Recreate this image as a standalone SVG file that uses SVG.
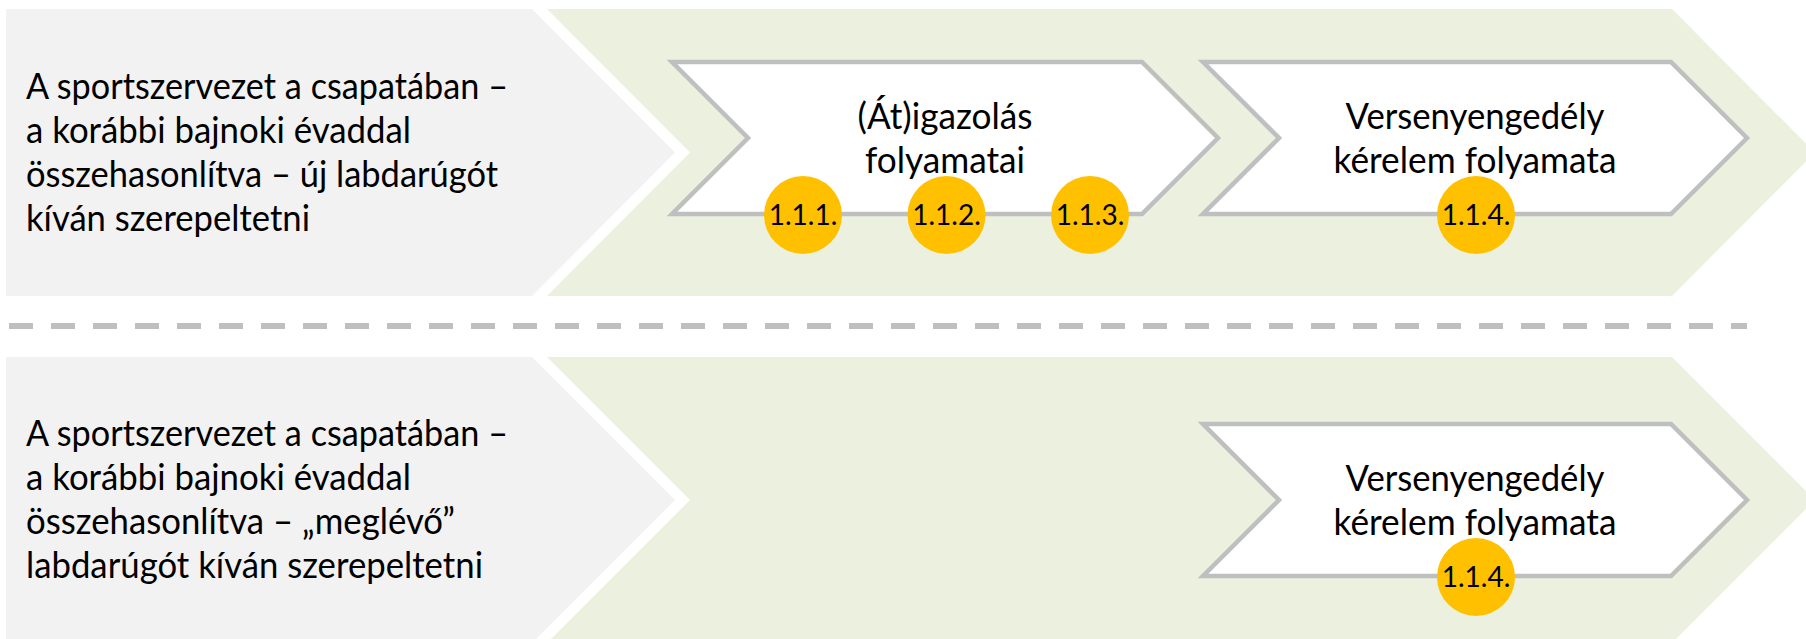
<svg xmlns="http://www.w3.org/2000/svg" width="1806" height="639" viewBox="0 0 1806 639">
<defs>
<style>
.bg{fill:#FFFFFF}
.grey{fill:#F2F2F2}
.green{fill:#EBF1DE}
.chev{fill:#FFFFFF;stroke:#BFBFBF;stroke-width:4.5;stroke-linejoin:miter}
.dot{fill:#FFC000}
.t{font-family:Lato,"Liberation Sans",sans-serif;font-size:37px;fill:#000000}
.tc{font-family:Lato,"Liberation Sans",sans-serif;font-size:37px;fill:#000000;text-anchor:middle}
.n{font-family:Lato,"Liberation Sans",sans-serif;font-size:28px;fill:#000000;text-anchor:middle}
.sep{stroke:#BFBFBF;stroke-width:6;stroke-dasharray:24 18;fill:none}
</style>
</defs>
<rect class="bg" x="0" y="0" width="1806" height="639"/>

<g id="row1-green">
<polygon class="green" points="547,9 1672,9 1815,152.5 1672,296 547,296 690,152.5"/>
</g>
<g id="row1-condition">
<polygon class="grey" points="6,9 532,9 675,152.5 532,296 6,296"/>
<text class="t" x="26" y="99" textLength="482" lengthAdjust="spacingAndGlyphs">A sportszervezet a csapatában –</text>
<text class="t" x="26" y="143" textLength="385" lengthAdjust="spacingAndGlyphs">a korábbi bajnoki évaddal</text>
<text class="t" x="26" y="187" textLength="472" lengthAdjust="spacingAndGlyphs">összehasonlítva – új labdarúgót</text>
<text class="t" x="26" y="231" textLength="284" lengthAdjust="spacingAndGlyphs">kíván szerepeltetni</text>
</g>
<g id="row1-atigazolas">
<polygon class="chev" points="672,62 1142,62 1218,138 1142,214 672,214 748,138"/>
<text class="tc" x="945" y="129" textLength="175" lengthAdjust="spacingAndGlyphs">(Át)igazolás</text>
<text class="tc" x="945" y="173" textLength="160" lengthAdjust="spacingAndGlyphs">folyamatai</text>
</g>
<g id="row1-versenyengedely">
<polygon class="chev" points="1203,62 1671,62 1747,138 1671,214 1203,214 1279,138"/>
<text class="tc" x="1475" y="129" textLength="259" lengthAdjust="spacingAndGlyphs">Versenyengedély</text>
<text class="tc" x="1475" y="173" textLength="283" lengthAdjust="spacingAndGlyphs">kérelem folyamata</text>
</g>
<g id="step-1-1-1">
<circle class="dot" cx="803" cy="215" r="39"/>
<text class="n" x="803" y="225">1.1.1.</text>
</g>
<g id="step-1-1-2">
<circle class="dot" cx="946.5" cy="215" r="39"/>
<text class="n" x="946.5" y="225">1.1.2.</text>
</g>
<g id="step-1-1-3">
<circle class="dot" cx="1090" cy="215" r="39"/>
<text class="n" x="1090" y="225">1.1.3.</text>
</g>
<g id="step-1-1-4-top">
<circle class="dot" cx="1476" cy="215" r="39"/>
<text class="n" x="1476" y="225">1.1.4.</text>
</g>

<g id="connectors">
<line class="sep" x1="9" y1="326" x2="1747" y2="326"/>
</g>

<g id="row2-green">
<polygon class="green" points="547,357 1672,357 1815,500 1672,643 547,643 690,500"/>
</g>
<g id="row2-condition">
<polygon class="grey" points="6,357 532,357 675,500 532,643 6,643"/>
<text class="t" x="26" y="446" textLength="482" lengthAdjust="spacingAndGlyphs">A sportszervezet a csapatában –</text>
<text class="t" x="26" y="490" textLength="385" lengthAdjust="spacingAndGlyphs">a korábbi bajnoki évaddal</text>
<text class="t" x="26" y="534" textLength="429" lengthAdjust="spacingAndGlyphs">összehasonlítva – „meglévő”</text>
<text class="t" x="26" y="578" textLength="457" lengthAdjust="spacingAndGlyphs">labdarúgót kíván szerepeltetni</text>
</g>
<g id="row2-versenyengedely">
<polygon class="chev" points="1203,424 1671,424 1747,500 1671,576 1203,576 1279,500"/>
<text class="tc" x="1475" y="491" textLength="259" lengthAdjust="spacingAndGlyphs">Versenyengedély</text>
<text class="tc" x="1475" y="535" textLength="283" lengthAdjust="spacingAndGlyphs">kérelem folyamata</text>
</g>
<g id="step-1-1-4-bottom">
<circle class="dot" cx="1476" cy="577" r="39"/>
<text class="n" x="1476" y="587">1.1.4.</text>
</g>
</svg>
